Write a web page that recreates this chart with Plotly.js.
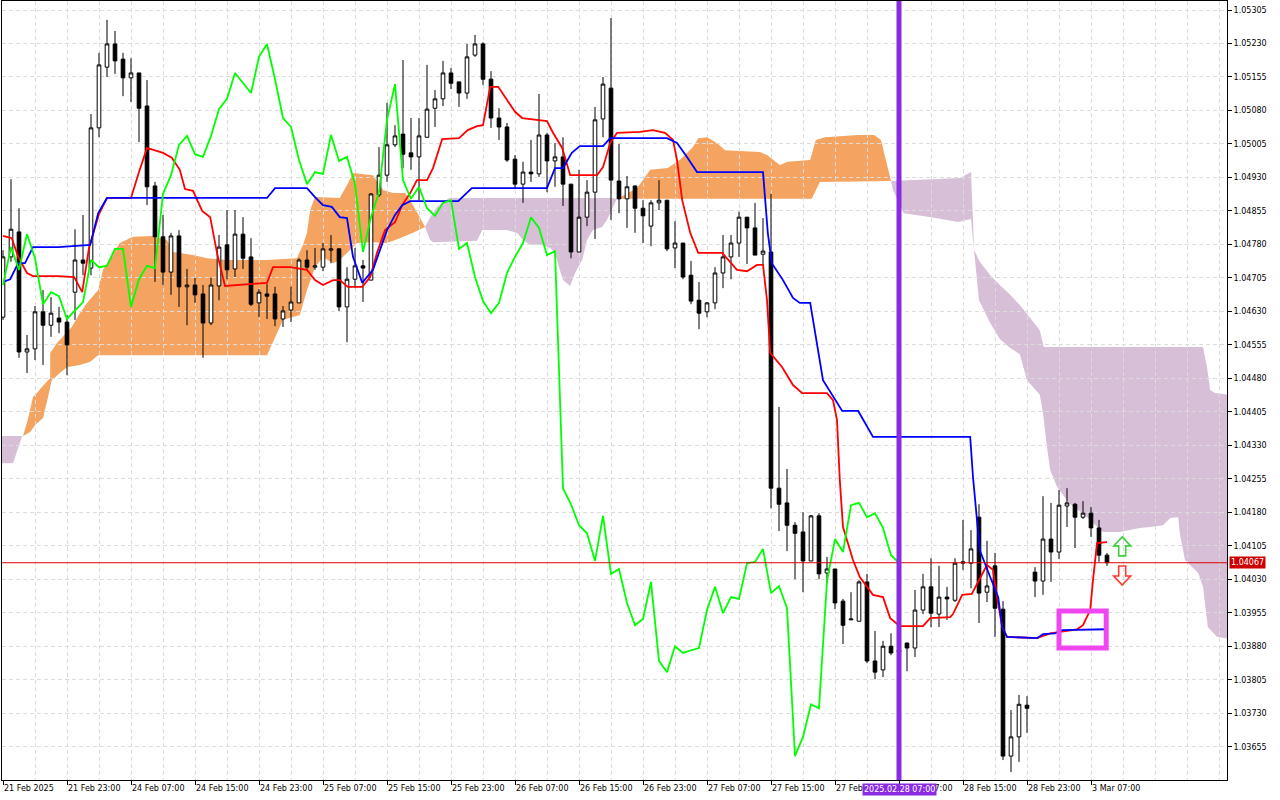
<!DOCTYPE html>
<html>
<head>
<meta charset="utf-8">
<script src="https://cdn.plot.ly/plotly-3.0.1.min.js"></script>
<style>
  html, body { margin: 0; padding: 0; background: #fff; }
  #chart { width: 1280px; height: 800px; }
</style>
</head>
<body>
<div id="chart"></div>
<script>
'use strict'
/* global Plotly */

// EURUSD H1, one entry per bar: 21 Feb 15:00 (bar 0) .. 3 Mar 09:00 (bar 138)
const open = [1.04617, 1.04752, 1.04808, 1.04539, 1.04546, 1.04629, 1.04599, 1.04615, 1.04606, 1.04673,
  1.04745, 1.04727, 1.05041, 1.05177, 1.05229, 1.05195, 1.05153, 1.05164, 1.0509, 1.04911,
  1.04797, 1.04718, 1.04799, 1.04685, 1.04689, 1.04669, 1.04604, 1.04687, 1.04779, 1.04725,
  1.04803, 1.04752, 1.04649, 1.04669, 1.04669, 1.04613, 1.04633, 1.04649, 1.04745, 1.04729,
  1.04729, 1.04767, 1.0477, 1.0464, 1.04702, 1.04732, 1.047, 1.04891, 1.04935, 1.05003,
  1.05027, 1.04985, 1.04976, 1.0502, 1.05085, 1.05106, 1.05164, 1.05144, 1.05119, 1.05204,
  1.05229, 1.0515, 1.05063, 1.05043, 1.04971, 1.04915, 1.04942, 1.04938, 1.05025, 1.04967,
  1.04976, 1.04915, 1.04763, 1.04841, 1.04897, 1.05061, 1.0513, 1.04922, 1.04882, 1.04911,
  1.04861, 1.04821, 1.04873, 1.04879, 1.04772, 1.04783, 1.04711, 1.04655, 1.04629, 1.04649,
  1.04716, 1.04752, 1.04783, 1.04841, 1.04817, 1.04758, 1.04763, 1.04234, 1.04201, 1.04151,
  1.04136, 1.04071, 1.04172, 1.04044, 1.04053, 1.03981, 1.03939, 1.03936, 1.04024, 1.03847,
  1.03827, 1.0388, 1.03867, 1.03887, 1.03876, 1.03961, 1.04013, 1.03952, 1.0399, 1.03983,
  1.04066, 1.04066, 1.04169, 1.04001, 1.0406, 1.03963, 1.03634, 1.03677, 1.03748, 1.04046,
  1.04026, 1.0412, 1.04091, 1.04194, 1.04198, 1.04169, 1.04178, 1.04145, 1.04084]
const high = [1.04767, 1.04926, 1.04861, 1.04577, 1.04642, 1.04678, 1.04662, 1.0464, 1.04622, 1.04814,
  1.04846, 1.05072, 1.05209, 1.05283, 1.05258, 1.05209, 1.05197, 1.05164, 1.05148, 1.0492,
  1.04846, 1.04806, 1.04812, 1.04725, 1.04705, 1.04689, 1.04705, 1.04801, 1.04857, 1.04857,
  1.04841, 1.04794, 1.0468, 1.04691, 1.04685, 1.04642, 1.04685, 1.04749, 1.04767, 1.04772,
  1.04783, 1.04801, 1.04772, 1.04729, 1.04772, 1.04745, 1.04895, 1.04998, 1.05097, 1.05047,
  1.05193, 1.05063, 1.05063, 1.05182, 1.05126, 1.05191, 1.05175, 1.05144, 1.05229, 1.05249,
  1.05233, 1.05168, 1.05085, 1.05052, 1.0498, 1.04965, 1.05014, 1.05117, 1.0503, 1.05007,
  1.0502, 1.04915, 1.04947, 1.04924, 1.05088, 1.05155, 1.05287, 1.05005, 1.04933, 1.04911,
  1.04879, 1.04879, 1.04924, 1.04879, 1.04832, 1.04783, 1.04743, 1.04696, 1.04651, 1.04729,
  1.04801, 1.04801, 1.04853, 1.04841, 1.04873, 1.04839, 1.04893, 1.04416, 1.04277, 1.04158,
  1.0418, 1.04174, 1.04178, 1.0408, 1.04053, 1.03986, 1.04001, 1.04028, 1.04042, 1.03914,
  1.03892, 1.03909, 1.03894, 1.03889, 1.04006, 1.04042, 1.04077, 1.0406, 1.04013, 1.04077,
  1.04163, 1.0414, 1.04198, 1.04116, 1.04089, 1.03981, 1.03737, 1.03771, 1.03768, 1.04057,
  1.04216, 1.04201, 1.0423, 1.04234, 1.04201, 1.04205, 1.04192, 1.04163, 1.04089]
const low = [1.04611, 1.04741, 1.04526, 1.04492, 1.04521, 1.0451, 1.04573, 1.04581, 1.04487, 1.04611,
  1.04711, 1.04711, 1.0502, 1.05155, 1.05162, 1.05112, 1.05099, 1.05009, 1.04868, 1.04696,
  1.04689, 1.04667, 1.0464, 1.04599, 1.04649, 1.04526, 1.04599, 1.04655, 1.04702, 1.04707,
  1.04725, 1.04642, 1.04617, 1.04613, 1.04597, 1.04595, 1.04606, 1.04649, 1.04725, 1.04723,
  1.0472, 1.04738, 1.04631, 1.04561, 1.04682, 1.04651, 1.047, 1.04886, 1.0492, 1.04998,
  1.04951, 1.04947, 1.04879, 1.0502, 1.05043, 1.0509, 1.05128, 1.05088, 1.05106, 1.052,
  1.05137, 1.05041, 1.05014, 1.04965, 1.04904, 1.04873, 1.0492, 1.04931, 1.04897, 1.04909,
  1.04866, 1.04749, 1.04763, 1.04821, 1.04792, 1.0502, 1.04835, 1.0485, 1.04817, 1.04806,
  1.04783, 1.04776, 1.04857, 1.04765, 1.04727, 1.04702, 1.04646, 1.0459, 1.04617, 1.04635,
  1.04682, 1.04702, 1.04752, 1.04736, 1.04756, 1.04734, 1.04189, 1.04138, 1.04093, 1.0403,
  1.04001, 1.04071, 1.0403, 1.04021, 1.03963, 1.03885, 1.03939, 1.03936, 1.03842, 1.03806,
  1.03811, 1.0386, 1.03849, 1.03824, 1.03856, 1.03952, 1.03923, 1.03923, 1.03939, 1.03979,
  1.04051, 1.0401, 1.03932, 1.03979, 1.03901, 1.03625, 1.03598, 1.03621, 1.03686, 1.0399,
  1.03995, 1.04024, 1.04075, 1.04147, 1.041, 1.04165, 1.04125, 1.04069, 1.0406]
const close = [1.04752, 1.04814, 1.04539, 1.04546, 1.04629, 1.04599, 1.04626, 1.04606, 1.04555, 1.04745,
  1.04738, 1.05041, 1.05182, 1.05229, 1.05191, 1.05153, 1.05164, 1.05085, 1.04909, 1.04797,
  1.04718, 1.04799, 1.04685, 1.04689, 1.04667, 1.04604, 1.04689, 1.04774, 1.04723, 1.04803,
  1.04749, 1.04646, 1.04673, 1.04664, 1.04613, 1.04631, 1.04651, 1.04745, 1.04729, 1.04732,
  1.0477, 1.0477, 1.0464, 1.04702, 1.04732, 1.04727, 1.04893, 1.04935, 1.05003, 1.05023,
  1.04982, 1.04976, 1.05023, 1.05083, 1.05106, 1.05164, 1.05141, 1.05119, 1.052, 1.05229,
  1.0515, 1.05063, 1.05043, 1.04969, 1.04915, 1.04942, 1.04938, 1.05025, 1.04967, 1.04976,
  1.04915, 1.04763, 1.04841, 1.04897, 1.05059, 1.05139, 1.04924, 1.04882, 1.04909, 1.04861,
  1.04844, 1.04873, 1.04879, 1.0477, 1.04783, 1.04707, 1.04653, 1.04626, 1.04649, 1.04716,
  1.04752, 1.04783, 1.04841, 1.04817, 1.04756, 1.04765, 1.04234, 1.04198, 1.04151, 1.04133,
  1.04071, 1.04172, 1.04042, 1.04053, 1.03977, 1.03927, 1.03941, 1.04024, 1.03847, 1.03822,
  1.0388, 1.03865, 1.03871, 1.03876, 1.03961, 1.04013, 1.03954, 1.0399, 1.03986, 1.04066,
  1.04069, 1.04098, 1.03999, 1.04015, 1.03965, 1.03634, 1.03677, 1.0375, 1.03741, 1.04026,
  1.0412, 1.04091, 1.04196, 1.04201, 1.04169, 1.04178, 1.04145, 1.04084, 1.04067]

// bottom scale: one label every 8 bars, starting at bar 0
const timeLabels = ['21 Feb 2025', '21 Feb 23:00', '24 Feb 07:00', '24 Feb 15:00', '24 Feb 23:00',
  '25 Feb 07:00', '25 Feb 15:00', '25 Feb 23:00', '26 Feb 07:00', '26 Feb 15:00', '26 Feb 23:00',
  '27 Feb 07:00', '27 Feb 15:00', '27 Feb 23:00', '28 Feb 07:00', '28 Feb 15:00', '28 Feb 23:00',
  '3 Mar 07:00']
const priceTicks = ['1.05305', '1.05230', '1.05155', '1.05080', '1.05005', '1.04930', '1.04855',
  '1.04780', '1.04705', '1.04630', '1.04555', '1.04480', '1.04405', '1.04330', '1.04255', '1.04180',
  '1.04105', '1.04030', '1.03955', '1.03880', '1.03805', '1.03730', '1.03655']

// Tenkan-sen (red), vertices: bar index / price
const tenkanX = [0, 1.1, 1.9, 3, 3.75, 6.9, 8.9, 9.9, 10.75, 12, 13, 16, 17, 18, 20, 21.1, 22.1, 22.75,
  23.75, 24.9, 25.9, 26.75, 27.75, 33, 33.75, 35.9, 38, 39, 40, 41.25, 42.1, 43.1, 44.9, 45.9, 46.75,
  47.75, 49, 49.9, 50.9, 51.75, 53, 53.75, 54.9, 57, 58.1, 59.25, 60, 60.9, 61.9, 64, 64.9, 68, 68.75,
  69.9, 70.9, 74.25, 75, 75.9, 76.75, 79.6, 81.25, 82.75, 83.75, 84.25, 84.9, 85.9, 86.9, 89.9, 91.75,
  93, 94.25, 95, 95.5, 95.9, 97.4, 98.75, 99.9, 103, 103.75, 104.25, 104.6, 105, 106.25, 107.1, 108.75,
  110, 110.9, 112.1, 115, 115.9, 118.4, 118.75, 119.9, 121.1, 123, 123.75, 124.25, 124.9, 125.5,
  129.25, 130.9, 134.25, 135, 135.9, 136.25, 136.75, 138]
const tenkanY = [1.04799, 1.04794, 1.04752, 1.04716, 1.04709, 1.04709, 1.04707, 1.04673, 1.04772,
  1.04848, 1.04884, 1.04884, 1.04942, 1.04996, 1.04985, 1.04974, 1.04947, 1.04904, 1.049, 1.04855,
  1.04841, 1.04761, 1.04687, 1.04694, 1.04729, 1.04729, 1.04723, 1.047, 1.04689, 1.047, 1.047, 1.04685,
  1.04685, 1.04707, 1.04761, 1.04812, 1.0483, 1.04868, 1.04895, 1.04924, 1.04924, 1.04951, 1.05016,
  1.05018, 1.05036, 1.05045, 1.05047, 1.05133, 1.05133, 1.05077, 1.05063, 1.05056, 1.0503, 1.04996,
  1.04935, 1.04935, 1.04953, 1.05007, 1.0503, 1.05032, 1.05036, 1.0503, 1.05014, 1.04969, 1.04879,
  1.04806, 1.04761, 1.04761, 1.04723, 1.0472, 1.04734, 1.04734, 1.04655, 1.04537, 1.04505, 1.04465,
  1.04447, 1.04447, 1.04431, 1.04387, 1.04252, 1.04147, 1.04073, 1.04035, 1.03995, 1.0399, 1.03943,
  1.03925, 1.03925, 1.03943, 1.03945, 1.03952, 1.03995, 1.03997, 1.04062, 1.04051, 1.0399, 1.03923,
  1.03901, 1.03898, 1.03909, 1.03918, 1.03927, 1.03961, 1.04028, 1.04111, 1.04113]

// Kijun-sen (blue)
const kijunX = [0, 0.9, 1.9, 2.75, 3.75, 6.9, 10.9, 11.9, 13, 33, 34, 38, 39, 40, 41.1, 42.1, 43, 43.75,
  44.9, 46.25, 48, 49, 49.9, 50.9, 56.9, 58.6, 68, 69, 70, 71.1, 72.1, 75, 75.9, 83, 84.25, 85.5, 86.75,
  95, 95.25, 95.6, 96.1, 97.5, 98.75, 99.6, 100.9, 102.5, 104.9, 106.9, 108.75, 120.9, 121.25, 121.75,
  122.1, 123.4, 124.4, 124.9, 125.5, 129.25, 130, 131.5, 132.4, 138]
const kijunY = [1.04696, 1.04702, 1.04738, 1.04738, 1.04774, 1.04774, 1.04779, 1.0485, 1.04884,
  1.04884, 1.04906, 1.04906, 1.04886, 1.04868, 1.04864, 1.04841, 1.04839, 1.04752, 1.04694, 1.04723,
  1.04812, 1.04846, 1.04868, 1.04877, 1.04877, 1.04906, 1.04906, 1.04951, 1.04951, 1.04985, 1.05,
  1.05, 1.05018, 1.05018, 1.05007, 1.04976, 1.04942, 1.04942, 1.04886, 1.04806, 1.04738, 1.047,
  1.0466, 1.04649, 1.04649, 1.04476, 1.04407, 1.04407, 1.04349, 1.04349, 1.04259, 1.04163, 1.04095,
  1.04035, 1.0399, 1.03923, 1.03901, 1.03898, 1.03907, 1.03909, 1.03916, 1.03918]

// Kumo pieces: upper edge left to right, then lower edge back
const kumoAX = [-0.4, 2.4, 1.25, -0.4]
const kumoAY = [1.04351, 1.04351, 1.0429, 1.0429]
const kumoBX = [2.5, 3.1, 3.75, 4.25, 4.9, 5.9, 5.9, 6.75, 8, 8.6, 9.6, 10.5, 11.9, 12.5, 13.4, 14.6,
  16.25, 18.75, 20.5, 21.25, 23.75, 25.5, 28, 33, 36.75, 37.5, 38, 38.4, 39, 42.1, 43, 43.75, 46.25,
  47.5, 48.75, 50.25, 50.9, 52.1, 52.75,
  51.25, 49.6, 48, 46.25, 44.25, 43, 42.1, 41.25, 40, 39, 38, 37.1, 35, 34.25, 33, 11.9, 10.9, 9.6, 8,
  7.1, 6.1, 5.6, 5, 4, 3.4]
const kumoBY = [1.04351, 1.04387, 1.04438, 1.04447, 1.04461, 1.04481, 1.04537, 1.04559, 1.04584,
  1.04595, 1.04626, 1.04649, 1.04678, 1.04723, 1.04749, 1.04783, 1.04797, 1.04799, 1.0479, 1.04763,
  1.04756, 1.04749, 1.04745, 1.04745, 1.04749, 1.04779, 1.04806, 1.04857, 1.04886, 1.04884, 1.04913,
  1.0494, 1.04935, 1.04902, 1.04895, 1.04895, 1.04879, 1.04841, 1.04819,
  1.04806, 1.04794, 1.04783, 1.04785, 1.04783, 1.04761, 1.04745, 1.04738, 1.04752, 1.04729, 1.04678,
  1.04622, 1.04611, 1.04581, 1.04532, 1.04532, 1.04517, 1.0451, 1.04505, 1.04492, 1.04476, 1.04436,
  1.04391, 1.04375, 1.0436]
const kumoCX = [52.75, 53.4, 54.25, 55.75, 76.1, 76.75,
  76.25, 75.5, 74.9, 73.75, 73, 72.4, 71.5, 70.9, 70, 69.5, 69, 68.4, 67.1, 65.9, 65, 64.25, 63, 59.9,
  59.25, 53.75, 53.4]
const kumoCY = [1.04819, 1.04841, 1.04864, 1.04884, 1.04884, 1.04882,
  1.04864, 1.04835, 1.04819, 1.04812, 1.0479, 1.04745, 1.04716, 1.04687, 1.047, 1.04729, 1.04761,
  1.04772, 1.04779, 1.04779, 1.0479, 1.04806, 1.04812, 1.04812, 1.04788, 1.04785, 1.0479]
const kumoDX = [76.75, 77.75, 79.25, 80.9, 83.1, 84.6, 86.25, 86.9, 88, 89.25, 90.25, 94.6, 95.5, 97.1,
  98.1, 100.9, 101.6, 102.75, 106.9, 108.9, 109.75, 111,
  102.1, 101.1]
const kumoDY = [1.04882, 1.04891, 1.04906, 1.04947, 1.04951, 1.04969, 1.04998, 1.05018, 1.0502,
  1.05007, 1.04991, 1.04987, 1.0498, 1.04958, 1.04965, 1.04969, 1.05014, 1.0502, 1.05025, 1.05025,
  1.05014, 1.04922,
  1.0492, 1.04882]
const kumoEX = [111, 119.6, 120.25, 121, 121.4, 122.1, 123.4, 124.6, 125.9, 127.1, 128.4, 129.6, 130.1,
  150, 150.5, 150.9, 151.5, 153.4,
  153.4, 151.75, 150.6, 150, 149.4, 147.75, 147.1, 146.9, 145.9, 145, 143.4, 142.1, 139.6, 137.5,
  136.25, 135, 133.75, 133, 131.75, 130.9, 130.5, 130, 129.6, 128, 127.1, 125.9, 124.6, 123.4, 122,
  121.5, 121, 119.4, 116, 112.6, 111.25]
const kumoEY = [1.04922, 1.04929, 1.04935, 1.04942, 1.04767, 1.04741, 1.04711, 1.04689, 1.04667,
  1.04644, 1.04615, 1.04588, 1.0455, 1.0455, 1.04505, 1.04454, 1.04447, 1.04443,
  1.03896, 1.03901, 1.03923, 1.04013, 1.04044, 1.04073, 1.04133, 1.04169, 1.04167, 1.04151, 1.04147,
  1.04145, 1.04136, 1.04136, 1.04156, 1.04178, 1.04192, 1.04207, 1.04237, 1.04275, 1.04326, 1.04402,
  1.04443, 1.04476, 1.04534, 1.04548, 1.04568, 1.04604, 1.04655, 1.04745, 1.04837, 1.0483, 1.04841,
  1.0485, 1.04902]

const CHIKOU_SHIFT = 26
const bidPrice = 1.04067
const markerBar = 112 // 2025.02.28 07:00
const boxBars = [132, 137.9]
const boxPrices = [1.03876, 1.03959]
const arrowBar = 139.9
const arrowUpTip = 1.04125
const arrowDownTip = 1.04017

const GRID = '#dcdcdc'
const SAND = '#f4a460'
const THISTLE = '#d8bfd8'
const FONT = 'DejaVu Sans, Verdana, sans-serif'
const X_RANGE = [-0.125, 153.0]
const Y_RANGE = [1.035804, 1.0532516]
const PX_PER_BAR = 1225 / (X_RANGE[1] - X_RANGE[0])
const PX_PER_PRICE = 779 / (Y_RANGE[1] - Y_RANGE[0])

const bars = close.map((c, i) => i)

function kumoPath (xs, ys) {
  return 'M ' + xs.map((x, i) => x + ',' + ys[i]).join(' L ') + ' Z'
}

// hollow block arrow (like the terminal's arrow objects), outline given in pixels
function arrowPath (bar, tip, dir) {
  const outline = [[0, 0], [8.5, 9], [3.5, 9], [3.5, 19], [-3.5, 19], [-3.5, 9], [-8.5, 9]]
  return 'M ' + outline.map(([dx, dy]) =>
    (bar + dx / PX_PER_BAR) + ',' + (tip - dir * dy / PX_PER_PRICE)).join(' L ') + ' Z'
}

const kumo = [
  [kumoAX, kumoAY, THISTLE],
  [kumoBX, kumoBY, SAND],
  [kumoCX, kumoCY, THISTLE],
  [kumoDX, kumoDY, SAND],
  [kumoEX, kumoEY, THISTLE]
]

const shapes = kumo.map(([xs, ys, col]) => ({
  type: 'path', xref: 'x', yref: 'y', layer: 'below',
  path: kumoPath(xs, ys), fillcolor: col, line: {width: 0}
}))

shapes.push({type: 'line', xref: 'paper', yref: 'y', x0: 0, x1: 1, y0: bidPrice, y1: bidPrice,
  line: {color: '#e00000', width: 1}})
shapes.push({type: 'line', xref: 'x', yref: 'paper', x0: markerBar, x1: markerBar, y0: 0, y1: 1,
  line: {color: '#8a2be2', width: 5}})
shapes.push({type: 'rect', xref: 'x', yref: 'y', x0: boxBars[0], x1: boxBars[1],
  y0: boxPrices[0], y1: boxPrices[1], line: {color: '#f046f0', width: 5}})
shapes.push({type: 'path', xref: 'x', yref: 'y', path: arrowPath(arrowBar, arrowUpTip, 1),
  fillcolor: 'rgba(255,255,255,0)', line: {color: '#3ccf3c', width: 1.6}})
shapes.push({type: 'path', xref: 'x', yref: 'y', path: arrowPath(arrowBar, arrowDownTip, -1),
  fillcolor: 'rgba(255,255,255,0)', line: {color: '#ff3a2a', width: 1.6}})

const labelBars = timeLabels.map((t, i) => i * 8)

const annotations = timeLabels.map((t, i) => ({
  x: labelBars[i], xref: 'x', y: 0, yref: 'paper', yanchor: 'top', xanchor: 'left',
  yshift: -3, text: t, showarrow: false, borderpad: 0,
  font: {family: FONT, size: 8, color: '#000'}
}))

// the time marker label covers the axis labels beneath it, as in the terminal
annotations.push({
  x: markerBar, xref: 'x', y: 0, yref: 'paper', yanchor: 'top', xanchor: 'center', yshift: -3,
  text: '2025.02.28 07:00', showarrow: false, bgcolor: '#8a2be2', borderpad: 1,
  font: {family: FONT, size: 8, color: '#fff'}
})
annotations.push({
  x: 1, xref: 'paper', xanchor: 'left', xshift: 2, y: bidPrice, yref: 'y',
  text: bidPrice.toFixed(5), showarrow: false, bgcolor: '#cc0000', borderpad: 1,
  font: {family: FONT, size: 8, color: '#fff'}
})

const data = [
  {
    type: 'candlestick', x: bars, open, high, low, close,
    increasing: {line: {color: '#000', width: 1}, fillcolor: '#fff'},
    decreasing: {line: {color: '#000', width: 1}, fillcolor: '#000'},
    whiskerwidth: 0, hoverinfo: 'skip'
  },
  {type: 'scatter', mode: 'lines', x: tenkanX, y: tenkanY, line: {color: '#ff0000', width: 1.8}, hoverinfo: 'skip'},
  {type: 'scatter', mode: 'lines', x: kijunX, y: kijunY, line: {color: '#0000ff', width: 1.8}, hoverinfo: 'skip'},
  {
    type: 'scatter', mode: 'lines',
    x: bars.slice(0, close.length - CHIKOU_SHIFT), y: close.slice(CHIKOU_SHIFT),
    line: {color: '#00ff00', width: 1.8}, hoverinfo: 'skip'
  }
]

const layout = {
  width: 1280, height: 800,
  margin: {l: 2, r: 53, t: 1, b: 20},
  paper_bgcolor: '#fff', plot_bgcolor: '#fff',
  showlegend: false, hovermode: false, boxgap: 0.35,
  font: {family: FONT, size: 8, color: '#000'},
  xaxis: {
    range: X_RANGE, automargin: false,
    tickmode: 'array', tickvals: labelBars, ticktext: labelBars.map(() => ''),
    ticks: 'outside', ticklen: 4, tickcolor: '#000',
    showgrid: true, gridcolor: GRID, griddash: '4px,3px', gridwidth: 1,
    minor: {tickmode: 'linear', tick0: 0, dtick: 4, showgrid: true, gridcolor: GRID, griddash: '4px,3px', ticks: ''},
    showline: true, linecolor: '#000', linewidth: 1, mirror: true, zeroline: false,
    rangeslider: {visible: false}, fixedrange: true
  },
  yaxis: {
    side: 'right', range: Y_RANGE, automargin: false,
    tickmode: 'array', tickvals: priceTicks.map(Number), ticktext: priceTicks,
    ticks: 'outside', ticklen: 4, tickcolor: '#000',
    tickfont: {family: FONT, size: 8, color: '#000'},
    showgrid: true, gridcolor: GRID, griddash: '4px,3px', gridwidth: 1,
    showline: true, linecolor: '#000', linewidth: 1, mirror: true, zeroline: false, fixedrange: true
  },
  shapes,
  annotations
}

Plotly.newPlot('chart', data, layout, {displayModeBar: false, staticPlot: true})
</script>
</body>
</html>
